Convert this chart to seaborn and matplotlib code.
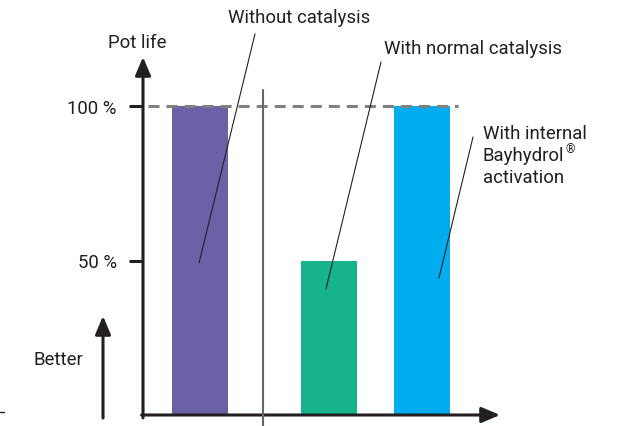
import numpy as np
import pandas as pd
import seaborn as sns
import matplotlib.pyplot as plt

# data
conditions = ["Without catalysis", "With normal catalysis",
              "With internal Bayhydrol® activation"]
pot_life = [100, 50, 100]
bar_colors = ["#6B61A6", "#17B48B", "#00AEEF"]
tick_values = [50, 100]
tick_labels = ["50 %", "100 %"]

# layout: bar centres (in bar-spacing units) - unequal gaps in the original
bar_pos = [0.0, 1.39, 2.39]

W, H = 620, 427
INK = "#231F20"
FONT = "Roboto"
FS = 13.4

sns.set_style("white")
plt.rcParams["font.family"] = [FONT, "DejaVu Sans"]

df = pd.DataFrame({"pos": bar_pos, "pot_life": pot_life, "condition": conditions})

fig = plt.figure(figsize=(W / 100, H / 100), dpi=100)


def px(x, y):
    # pixel position in the 620x427 picture -> figure fraction
    return x / W, 1 - y / H


# axes box: y axis at x=143px, baseline at y=416px, arrows end at 500px / 58px
x0, y0, x1, y1 = 143, 416, 500, 58
ax = fig.add_axes([x0 / W, 1 - y0 / H, (x1 - x0) / W, (y0 - y1) / H])

sns.barplot(data=df, x="pos", y="pot_life", hue="condition",
            palette=bar_colors, hue_order=conditions, native_scale=True,
            dodge=False, width=0.6, saturation=1, legend=False, ax=ax,
            linewidth=0, zorder=2)

unit = 93.0  # pixels per x unit
ax.set_xlim((x0 - 200) / unit, bar_pos[-1] + (x1 - 422) / unit)
ax.set_ylim(0, (y0 - y1) / 3.09)

for s in ax.spines.values():
    s.set_visible(False)
ax.set_xticks([])
ax.set_yticks(tick_values)
ax.set_yticklabels(tick_labels, fontsize=FS, color=INK)
ax.tick_params(axis="y", left=True, length=10, width=2.2, color=INK, pad=9)
ax.set_xlabel("")
ax.set_ylabel("")

# axis arrows
arrow = dict(arrowstyle="-|>,head_length=0.85,head_width=0.36", color=INK,
             lw=2.2, mutation_scale=13, shrinkA=0, shrinkB=0)
ax.annotate("", xy=(0, 1), xytext=(0, -0.008), xycoords="axes fraction",
            arrowprops=arrow, annotation_clip=False)
ax.annotate("", xy=(1, 0), xytext=(-0.004, 0), xycoords="axes fraction",
            arrowprops=arrow, annotation_clip=False)

# dashed 100 % reference
ax.plot([(148 - 200) / unit, (458 - 200) / unit], [100, 100], color="#808080",
        lw=2.2, dashes=(3.6, 2.3), zorder=3, clip_on=False)

# vertical divider
ax.plot([(263 - 200) / unit] * 2, [(y0 - 91) / 3.09, (y0 - 430) / 3.09],
        color="#666666", lw=1.5, zorder=3, clip_on=False)

# leader lines
leaders = [((255, 35), (199, 264)), ((381, 63), (326, 290)), ((473, 138), (439, 279))]
for a, b in leaders:
    fig.add_artist(plt.Line2D([a[0] / W, b[0] / W], [1 - a[1] / H, 1 - b[1] / H],
                              color=INK, lw=0.8, zorder=5))

# labels
fig.text(*px(228, 18), "Without catalysis", fontsize=FS, color=INK, va="center")
fig.text(*px(384, 49), "With normal catalysis", fontsize=FS, color=INK, va="center")
fig.text(*px(483, 134), "With internal", fontsize=FS, color=INK, va="center")
bay = fig.text(*px(483, 156), "Bayhydrol", fontsize=FS, color=INK, va="center")
fig.text(*px(483, 178), "activation", fontsize=FS, color=INK, va="center")
fig.text(*px(137, 43), "Pot life", fontsize=FS, color=INK, ha="center", va="center")
fig.text(*px(58, 360), "Better", fontsize=FS, color=INK, ha="center", va="center")

# registered mark as a small superscript after "Bayhydrol"
r = fig.canvas.get_renderer()
bb = bay.get_window_extent(renderer=r)
fig.text((bb.x1 + 0.6) / W, 1 - 150 / H, "®", fontsize=FS * 0.65, color=INK,
         va="center")

# "Better" arrow
ax.annotate("", xy=px(103, 317), xytext=px(103, 419), xycoords="figure fraction",
            arrowprops=arrow, annotation_clip=False)

# small mark at the lower left edge
fig.add_artist(plt.Line2D([0, 4 / W], [1 - 413 / H] * 2, color=INK, lw=1))

fig.savefig("out.png", dpi=100)
